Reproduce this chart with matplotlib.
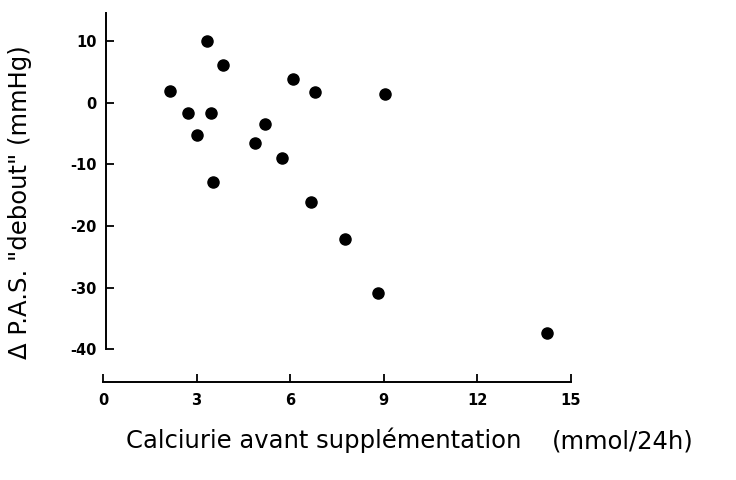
import matplotlib
matplotlib.use("Agg")
import matplotlib.pyplot as plt

plt.rcParams["axes.unicode_minus"] = False

# Calciurie avant supplementation (mmol/24h) vs delta PAS debout (mmHg)
calciurie = [2.15, 2.72, 3.01, 3.33, 3.46, 3.53, 3.85, 4.87, 5.19, 5.74,
             6.09, 6.67, 6.79, 7.76, 8.81, 9.04, 14.23]
delta_pas = [1.9, -1.6, -5.3, 10.0, -1.6, -12.9, 6.1, -6.5, -3.5, -9.0,
             3.9, -16.1, 1.8, -22.1, -30.8, 1.5, -37.4]

x_ticks = [0, 3, 6, 9, 12, 15]
y_ticks = [-40, -30, -20, -10, 0, 10]

fig = plt.figure(figsize=(7.36, 4.8), dpi=100)
ax = fig.add_axes([0.1188, 0.2042, 0.678, 0.769])

ax.plot(calciurie, delta_pas, "o", color="black", markersize=8, linestyle="none")

ax.set_xlim(-0.5, 15.5)
ax.set_ylim(-45.3, 14.6)

ax.spines["top"].set_visible(False)
ax.spines["right"].set_visible(False)
ax.spines["left"].set_position(("data", 0.1))
ax.spines["left"].set_bounds(-40, 14.5)
ax.spines["bottom"].set_bounds(0, 15)
ax.spines["left"].set_linewidth(1.4)
ax.spines["bottom"].set_linewidth(1.4)

ax.set_xticks(x_ticks)
ax.set_yticks(y_ticks)
ax.tick_params(direction="in", length=6, width=1.3, labelsize=10.5)
ax.tick_params(axis="y", pad=7)
ax.tick_params(axis="x", pad=8)
for lab in ax.get_xticklabels() + ax.get_yticklabels():
    lab.set_fontweight("bold")

fig.text(20 / 736, 1 - 202 / 480, 'Δ P.A.S. "debout" (mmHg)', rotation=90,
         ha="center", va="center", fontsize=17.5)
fig.text(126 / 736, 1 - 440 / 480, "Calciurie avant supplémentation",
         ha="left", va="center", fontsize=17.5)
fig.text(552 / 736, 1 - 442 / 480, "(mmol/24h)",
         ha="left", va="center", fontsize=17.5)

fig.savefig("out.png", dpi=100)
